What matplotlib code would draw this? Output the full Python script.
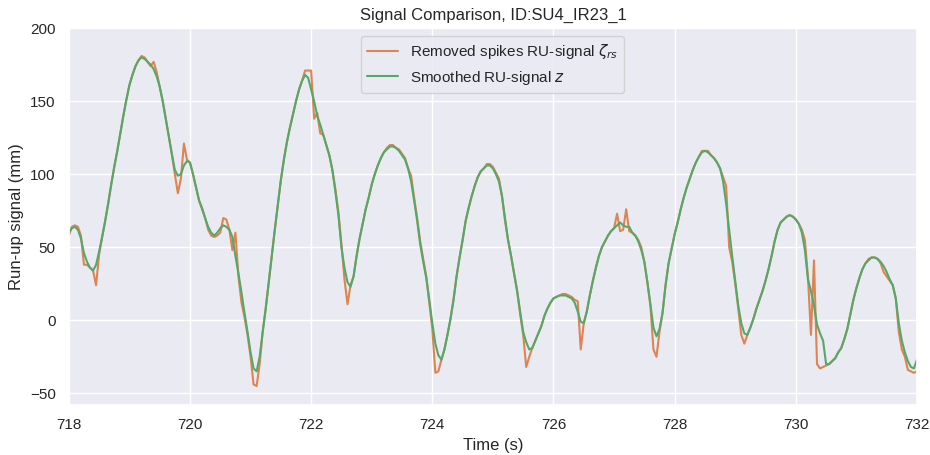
import numpy as np
import matplotlib.pyplot as plt
import seaborn as sns

sns.set_theme()
plt.rcParams['font.family'] = ['Liberation Sans', 'DejaVu Sans']

# time axis, 20 samples per second
t = np.round(np.arange(718.0, 732.0001, 0.05), 2)

# RU-signal after spike removal (mm)
zeta_rs = [
    58, 64, 65, 64, 58, 38, 38, 36, 34, 24,
    45, 57, 68, 80, 93, 105, 116, 128, 140, 151,
    161, 168, 174, 178, 181, 180, 177, 174, 177, 170,
    160, 150, 138, 126, 114, 100, 87, 97, 121, 110,
    108, 100, 91, 82, 77, 70, 62, 58, 57, 58,
    60, 70, 69, 62, 48, 60, 30, 12, 2, -10,
    -25, -44, -45, -30, -8, 8, 26, 44, 62, 79,
    96, 110, 122, 132, 141, 150, 158, 164, 171, 171,
    171, 138, 142, 128, 127, 120, 113, 103, 90, 74,
    52, 28, 11, 24, 30, 44, 56, 66, 76, 84,
    93, 100, 106, 111, 115, 118, 120, 120, 118, 117,
    114, 111, 104, 99, 84, 70, 54, 42, 30, 12,
    -6, -36, -35, -27, -20, -10, 1, 14, 30, 43,
    55, 68, 77, 85, 92, 98, 102, 104, 107, 107,
    105, 101, 97, 85, 68, 55, 44, 32, 20, 4,
    -10, -32, -25, -19, -14, -9, -4, 3, 8, 12,
    15, 16, 17, 18, 18, 17, 16, 14, 13, -20,
    -2, 6, 17, 27, 36, 44, 50, 54, 58, 61,
    63, 73, 61, 62, 76, 61, 60, 58, 55, 50,
    40, 26, 10, -20, -25, -8, 5, 24, 39, 49,
    59, 67, 76, 84, 91, 97, 103, 108, 112, 116,
    116, 116, 113, 111, 108, 104, 98, 92, 50, 40,
    25, 8, -10, -16, -10, -5, 1, 8, 14, 20,
    27, 35, 44, 54, 62, 67, 69, 71, 72, 71,
    69, 66, 62, 55, 30, -10, 41, -30, -33, -32,
    -31, -30, -28, -26, -22, -19, -13, -6, 4, 14,
    22, 29, 35, 39, 42, 43, 43, 42, 39, 33,
    30, 27, 24, 15, -8, -20, -25, -34, -35, -36,
    -35,
]

# smoothed RU-signal (mm)
z = [
    60, 63, 64, 62, 56, 46, 40, 36, 34, 38,
    47, 57, 68, 80, 93, 105, 116, 128, 140, 151,
    161, 168, 174, 178, 180, 179, 177, 175, 172, 167,
    160, 150, 138, 126, 114, 103, 99, 100, 106, 109,
    108, 100, 91, 82, 76, 70, 64, 60, 58, 60,
    63, 65, 64, 62, 57, 44, 32, 19, 5, -8,
    -22, -33, -35, -25, -8, 8, 26, 44, 62, 79,
    96, 110, 122, 132, 141, 150, 158, 164, 168, 166,
    158, 150, 140, 134, 127, 120, 113, 103, 88, 72,
    50, 36, 26, 23, 30, 44, 56, 66, 76, 84,
    93, 100, 106, 111, 115, 117, 119, 119, 118, 116,
    113, 110, 104, 95, 82, 68, 52, 40, 29, 14,
    -2, -16, -24, -27, -20, -10, 1, 14, 30, 43,
    55, 68, 77, 85, 92, 98, 102, 104, 106, 106,
    104, 100, 95, 85, 70, 55, 44, 32, 20, 6,
    -8, -15, -20, -19, -14, -9, -4, 3, 8, 12,
    15, 16, 17, 17, 17, 16, 15, 12, 6, -1,
    -2, 6, 17, 27, 36, 44, 50, 54, 58, 61,
    63, 65, 67, 65, 64, 64, 60, 58, 54, 48,
    40, 26, 11, -5, -11, -6, 5, 24, 39, 49,
    59, 67, 76, 84, 91, 97, 103, 108, 112, 115,
    116, 115, 113, 111, 108, 104, 95, 80, 62, 44,
    27, 10, -2, -9, -10, -5, 1, 8, 14, 20,
    27, 35, 44, 54, 62, 67, 69, 71, 72, 71,
    69, 66, 60, 48, 28, 20, 10, -3, -9, -14,
    -30, -30, -28, -26, -22, -19, -13, -6, 4, 14,
    22, 29, 35, 39, 41, 43, 43, 42, 40, 37,
    33, 28, 24, 15, -2, -14, -22, -28, -32, -33,
    -27,
]

fig, ax = plt.subplots(figsize=(9.3, 4.55), dpi=100)
fig.subplots_adjust(left=0.074, right=0.986, top=0.938, bottom=0.11)

ax.plot(t, zeta_rs, color='C1', lw=1.5, label=r'Removed spikes RU-signal $\zeta_{rs}$')
ax.plot(t, z, color='C2', lw=1.5, label=r'Smoothed RU-signal $z$')

ax.set_xlim(718, 732)
ax.set_ylim(-58, 200)
ax.set_xticks(np.arange(718, 733, 2))
ax.set_yticks([-50, 0, 50, 100, 150, 200])
ax.set_xlabel('Time (s)')
ax.set_ylabel('Run-up signal (mm)')
ax.set_title('Signal Comparison, ID:SU4_IR23_1')
ax.legend(loc='upper center')

fig.savefig('out.png')
